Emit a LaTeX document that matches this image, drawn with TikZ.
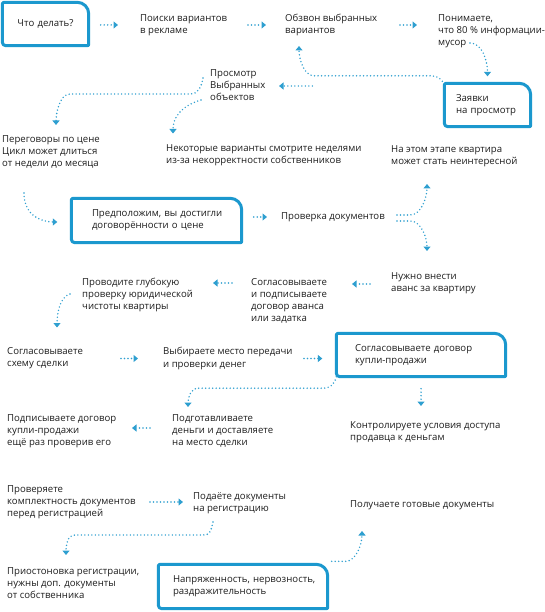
\documentclass[tikz,border=0pt]{standalone}
\usepackage{fontspec}
\setmainfont{Open Sans}
\usetikzlibrary{arrows.meta}
\definecolor{cianblue}{HTML}{1B98CE}
\definecolor{dotblue}{HTML}{2E9FD0}
\definecolor{txtcol}{HTML}{1E1E1E}
\tikzset{
  lbl/.style={anchor=west, align=left, inner sep=0pt, font=\fontsize{9.6}{12.2}\selectfont, text=txtcol},
  boxnode/.style={inner ysep=0pt, minimum height=43pt, align=left, font=\fontsize{9.6}{12.2}\selectfont, text=txtcol},
  arr/.style={dotblue, line width=1.6pt, dash pattern=on 0pt off 3.5pt, line cap=round, -{Triangle[length=4.5pt,width=7pt]}},
  frameline/.style={cianblue, line width=3pt, line join=round}
}
\newcommand\cianframe[1]{\draw[frameline] ([yshift=-1.5pt]#1.north west) arc[start angle=180,end angle=90,radius=1.5pt] -- ([xshift=-11.5pt]#1.north east) arc[start angle=90,end angle=0,radius=11.5pt] -- ([yshift=1pt]#1.south east) arc[start angle=0,end angle=-90,radius=1pt] -- ([xshift=3.5pt]#1.south west) arc[start angle=270,end angle=180,radius=3.5pt] -- cycle;}
\begin{document}
\begin{tikzpicture}[x=1pt,y=1pt]
\useasboundingbox[fill=white] (0,0) rectangle (544,-612);
% boxes
\node[boxnode, align=center, minimum width=86pt, text width=70pt, inner xsep=8pt] (b1) at (45.5,-24) {Что делать?};
\node[boxnode, minimum width=86pt, text width=63pt, inner xsep=11.5pt] (b5) at (487.5,-105) {\mbox{Заявки}\\\mbox{на просмотр}};
\node[boxnode, minimum width=170pt, text width=129pt, inner xsep=20.5pt, minimum height=44pt] (b10) at (156.5,-220.5) {\mbox{Предположим, вы достигли}\\\mbox{договорённости о цене}};
\node[boxnode, minimum width=169pt, text width=132pt, inner xsep=18.5pt] (b17) at (421,-355) {\mbox{Согласовываете договор}\\\mbox{купли-продажи}};
\node[boxnode, minimum width=169pt, text width=140pt, inner xsep=14.5pt, minimum height=44pt] (b24) at (243,-586.5) {\mbox{Напряженность, нервозность,}\\\mbox{раздражительность}};
\cianframe{b1}
\cianframe{b5}
\cianframe{b10}
\cianframe{b17}
\cianframe{b24}
% texts
\node[lbl] (t2) at (140,-25) {Поиски вариантов\\в рекламе};
\node[lbl] (t3) at (285,-25) {Обзвон выбранных\\вариантов};
\node[lbl] (t4) at (438,-31) {Понимаете,\\что 80 \% информации-\\мусор};
\node[lbl] (t6) at (210,-85) {Просмотр\\Выбранных\\объектов};
\node[lbl] (t7) at (2,-152) {Переговоры по цене\\Цикл может длиться\\от недели до месяца};
\node[lbl] (t8) at (166,-155.5) {Некоторые варианты смотрите неделями\\из-за некорректности собственников};
\node[lbl] (t9) at (391,-156) {На этом этапе квартира\\может стать неинтересной};
\node[lbl] (t11) at (281,-217) {Проверка документов};
\node[lbl] (t12) at (391,-283) {Нужно внести\\аванс за квартиру};
\node[lbl] (t13) at (251,-301) {Согласовываете\\и подписываете\\договор аванса\\или задатка};
\node[lbl] (t14) at (82,-295) {Проводите глубокую\\проверку юридической\\чистоты квартиры};
\node[lbl] (t15) at (7,-358.5) {Согласовываете\\схему сделки};
\node[lbl] (t16) at (163,-358.5) {Выбираете место передачи\\и проверки денег};
\node[lbl] (t18) at (350,-432) {Контролируете условия доступа\\продавца к деньгам};
\node[lbl] (t19) at (172,-431) {Подготавливаете\\деньги и доставляете\\на место сделки};
\node[lbl] (t20) at (7,-431) {Подписываете договор\\купли-продажи\\ещё раз проверив его};
\node[lbl] (t21) at (7,-502) {Проверяете\\комплектность документов\\перед регистрацией};
\node[lbl] (t22) at (193,-503) {Подаёте документы\\на регистрацию};
\node[lbl] (t23) at (7,-583) {Приостоновка регистрации,\\нужны доп. документы\\от собственника};
\node[lbl] (t25) at (350,-505) {Получаете готовые документы};
% connectors
\draw[arr] ([xshift=12pt]b1.east |- t2.west) -- ([xshift=-22pt]t2.west);
\draw[arr] ([xshift=108pt]t2.west) -- ([xshift=-19pt]t3.west);
\draw[arr] ([xshift=115pt]t3.west) -- ([xshift=-21pt]t4.west |- t3.west);
\draw[arr] ([xshift=32pt,yshift=-12pt]t4.west) .. controls +(12,0) and +(0,16) .. ([yshift=7pt]b5.north);
\draw[arr] ([xshift=-2pt,yshift=2pt]b5.north west) .. controls +(-3,4) and +(5,0) .. ++(-12,5.5) -- ++(-116,0) .. controls +(-11,0) and +(0,-12) .. ([xshift=14pt,yshift=-21pt]t3.west);
\draw[arr] ([xshift=-132pt,yshift=19pt]b5.west) -- ([xshift=69pt,yshift=-1pt]t6.west);
\draw[arr] ([xshift=-7pt,yshift=7pt]t6.west) .. controls +(-2,-10) and +(8,0) .. ++(-13,-16) -- ++(-120,0) .. controls +(-11,0) and +(0,10) .. ([xshift=54pt,yshift=27pt]t7.west);
\draw[arr] ([xshift=-9pt,yshift=-15pt]t6.west) .. controls +(-20,-6) and +(0,16) .. ([xshift=7pt,yshift=22pt]t8.west);
\draw[arr] ([xshift=22pt,yshift=-41pt]t7.west) .. controls +(0,-24) and +(-14,0) .. ([xshift=-14pt,yshift=-1.5pt]b10.west);
\draw[arr] ([xshift=12pt]b10.east |- t11.west) -- ([xshift=-14pt]t11.west);
\draw[arr] ([xshift=116pt,yshift=2pt]t11.west) -- ++(13,0) .. controls +(12,0) and +(0,-12) .. ([xshift=36pt,yshift=-28pt]t9.west);
\draw[arr] ([xshift=116pt,yshift=-4pt]t11.west) -- ++(13,0) .. controls +(12,0) and +(0,12) .. ([xshift=36pt,yshift=32pt]t12.west);
\draw[arr] ([xshift=-21pt,yshift=-1pt]t12.west) -- ([xshift=101pt,yshift=17pt]t13.west);
\draw[arr] ([xshift=-19pt,yshift=18pt]t13.west) -- ([xshift=131pt,yshift=12pt]t14.west);
\draw[arr] ([xshift=-12pt,yshift=1pt]t14.west) .. controls +(-11,-3) and +(0,12) .. ([xshift=50pt,yshift=31pt]t15.west);
\draw[arr] ([xshift=114pt]t15.west) -- ([xshift=-25pt]t16.west);
\draw[arr] ([xshift=141pt]t16.west) -- ([xshift=-14pt]b17.west |- t16.west);
\draw[arr] (b17.south west) .. controls +(-2,-8) and +(8,0) .. ++(-14,-11.5) -- ++(-124,0) .. controls +(-8,0) and +(0,9) .. ([xshift=16pt,yshift=24pt]t19.west);
\draw[arr] ([yshift=-12pt]b17.south) -- ([xshift=71pt,yshift=26pt]t18.west);
\draw[arr] ([xshift=-22pt,yshift=3pt]t19.west) -- ([xshift=125pt,yshift=3pt]t20.west);
\draw[arr] ([xshift=143pt]t21.west) -- ([xshift=-10pt]t22.west |- t21.west);
\draw[arr] ([xshift=20pt,yshift=-19pt]t22.west) .. controls +(-2,-8) and +(8,0) .. ++(-10,-13) -- ++(-128,0) .. controls +(-8,0) and +(0,9) .. ([xshift=59pt,yshift=28pt]t23.west);
\draw[arr] ([xshift=4pt,yshift=3pt]b24.north east) -- ++(14,0) .. controls +(10,0) and +(0,-14) .. ([xshift=12pt,yshift=-26pt]t25.west);
\end{tikzpicture}
\end{document}
